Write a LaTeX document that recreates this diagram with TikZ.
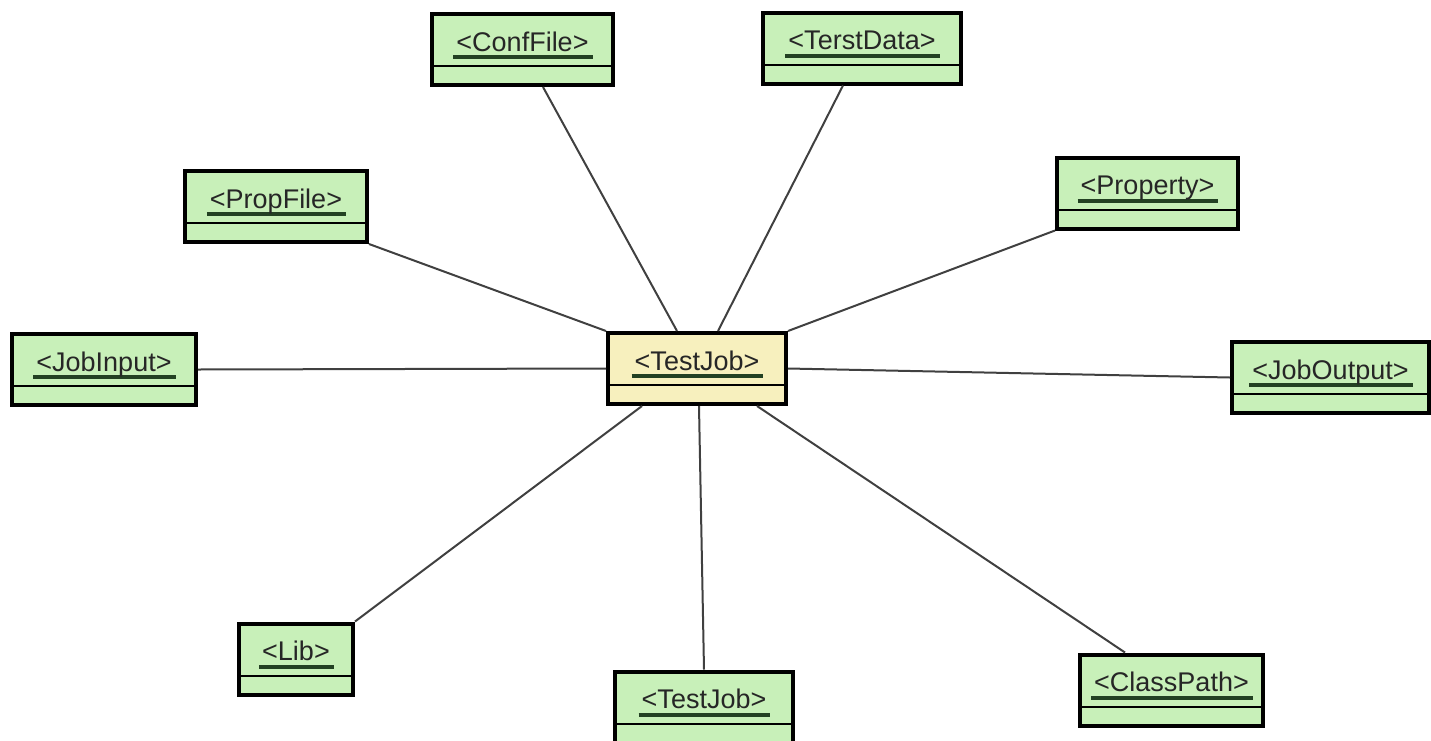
\documentclass[tikz,border=0pt]{standalone}
\usepackage{fontspec}
\setmainfont{Liberation Sans}
\definecolor{clsgreen}{RGB}{200,240,185}
\definecolor{clsyellow}{RGB}{247,240,190}
\definecolor{ulgreen}{RGB}{35,65,35}
\tikzset{
cls/.style={
	draw, line width=2pt, fill=clsgreen, minimum width=#1,
	minimum height=35.5pt, inner ysep=0pt, text height=10pt,
	text depth=8.5pt, text=black!85, font=\fontsize{13.5}{16}\selectfont,
	path picture={\draw[line width=1pt]
		([yshift=9.5pt]path picture bounding box.south west) --
		([yshift=9.5pt]path picture bounding box.south east);}},
assoc/.style={draw=black!75, line width=1pt}
}
\newcommand{\clsname}[1]{\sbox0{#1}\rlap{\hspace{-1.5pt}\textcolor{ulgreen}{\rule[-4pt]{\dimexpr\wd0+3.5pt\relax}{2pt}}}\usebox0}

\begin{document}
\begin{tikzpicture}[x=0.5pt, y=-0.5pt]
	\useasboundingbox (0,0) rectangle (1431,740);
	\node[cls=89pt, fill=clsyellow] (job) at (697,368.5) {\clsname{<TestJob>}};
	\node[cls=90.5pt] (conf) at (522.5,49.5) {\clsname{<ConfFile>}};
	\node[cls=99pt] (data) at (862,48) {\clsname{<TerstData>}};
	\node[cls=91pt] (propfile) at (276,206.5) {\clsname{<PropFile>}};
	\node[cls=90.5pt] (prop) at (1147.5,193) {\clsname{<Property>}};
	\node[cls=92pt] (in) at (104,369.5) {\clsname{<JobInput>}};
	\node[cls=98.5pt] (out) at (1330.5,377.5) {\clsname{<JobOutput>}};
	\node[cls=57pt] (lib) at (296,659) {\clsname{<Lib>}};
	\node[cls=89pt] (sub) at (704,707) {\clsname{<TestJob>}};
	\node[cls=91.5pt] (cp) at (1171.5,690) {\clsname{<ClassPath>}};

	\draw[assoc] ([xshift=10.25pt]conf.south) -- ([xshift=-10pt]job.north);
	\draw[assoc] ([xshift=-9.5pt]data.south) -- ([xshift=10.5pt]job.north);
	\draw[assoc] (propfile.south east) -- (job.north west);
	\draw[assoc] (prop.south west) -- (job.north east);
	\draw[assoc] (in.east) -- (job.west);
	\draw[assoc] (out.west) -- (job.east);
	\draw[assoc] (lib.north east) -- ([xshift=-27.5pt]job.south);
	\draw[assoc] (sub.north) -- ([xshift=1pt]job.south);
	\draw[assoc] ([xshift=-23.25pt]cp.north) -- ([xshift=30pt]job.south);
\end{tikzpicture}
\end{document}
